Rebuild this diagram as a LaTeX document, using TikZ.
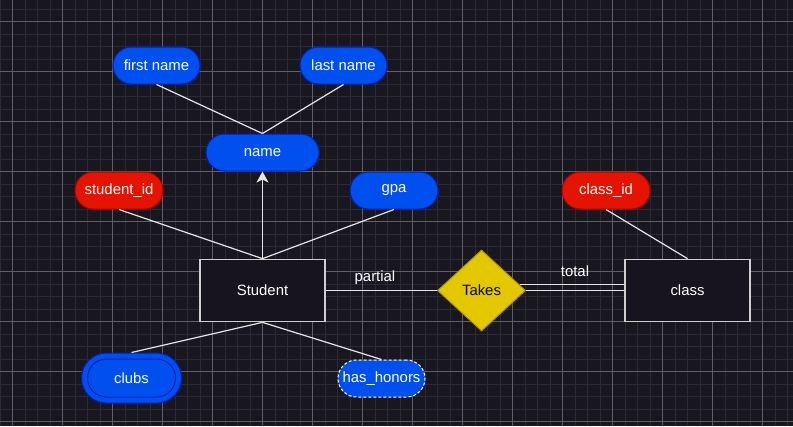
\documentclass[tikz,border=0pt]{standalone}
\usepackage{fontspec}
\setmainfont{Liberation Sans}
\usetikzlibrary{shapes.geometric,arrows.meta}
\definecolor{bgc}{RGB}{24,22,31}
\definecolor{minorc}{RGB}{44,42,52}
\definecolor{majorc}{RGB}{96,94,102}
\definecolor{bluef}{HTML}{0050EF}
\definecolor{blues}{HTML}{001DBC}
\definecolor{redf}{HTML}{E51400}
\definecolor{reds}{HTML}{B20000}
\definecolor{yelf}{HTML}{E3C800}
\definecolor{yels}{HTML}{B09500}
\definecolor{entf}{HTML}{18141D}
\definecolor{linec}{RGB}{230,230,230}
\tikzset{
  txt/.style={font=\fontsize{14.9}{17}\selectfont, text=white, inner sep=0pt},
  attr/.style={txt, rectangle, rounded corners=18.5pt, minimum width=87pt, minimum height=37pt, fill=bluef, draw=blues, line width=1pt},
  keyattr/.style={attr, fill=redf, draw=reds},
  entity/.style={txt, rectangle, minimum width=125pt, minimum height=62.5pt, fill=entf, draw=linec!90!black, line width=1.2pt},
  rel/.style={txt, text=black, diamond, shape aspect=1.0864, minimum width=88pt, minimum height=81pt, fill=yelf, draw=yels, line width=1pt},
  conn/.style={draw=linec, line width=1.2pt},
  lbl/.style={txt}
}
\begin{document}
\begin{tikzpicture}[x=1pt,y=-1pt]
\useasboundingbox (0,0) rectangle (793,426);
\fill[bgc] (0,0) rectangle (793,426);
\foreach \k in {0,...,63} {\draw[minorc, line width=1pt] ({0.17+12.5*\k},0) -- ({0.17+12.5*\k},426);}
\foreach \k in {0,...,33} {\draw[minorc, line width=1pt] (0,{9.17+12.5*\k}) -- (793,{9.17+12.5*\k});}
\foreach \k in {0,...,15} {\draw[majorc, line width=1pt] ({12.67+50*\k},0) -- ({12.67+50*\k},426);}
\foreach \k in {0,...,8} {\draw[majorc, line width=1pt] (0,{21.67+50*\k}) -- (793,{21.67+50*\k});}

% nodes
\node[attr] (fn) at (156.5,65.5) {first name};
\node[attr] (ln) at (343.5,65.5) {last name};
\node[attr, minimum width=113pt] (nm) at (262.5,152.5) {name};
\node[keyattr, minimum width=88pt] (sid) at (119,190.5) {student\_id};
\node[attr, minimum width=88pt] (gpa) at (394,190.5) {gpa};
\node[keyattr, minimum width=88pt] (cid) at (606,190.5) {class\_id};
\node[entity] (st) at (262.5,290.5) {Student};
\node[rel] (tk) at (481.5,290.5) {Takes};
\node[entity] (cl) at (687.5,290.5) {class};
\node[attr, minimum width=100pt, minimum height=50pt, rounded corners=25pt] (cb) at (131.5,378) {};
\node[attr, minimum width=88pt, minimum height=38pt, rounded corners=19pt] (cbi) at (131.5,378) {clubs};
\node[attr, minimum width=87pt, draw=white, dashed, dash pattern=on 3pt off 2pt] (hh) at (381.5,378.5) {has\_honors};

% connectors
\draw[conn] (fn.south) -- (nm.north);
\draw[conn] (ln.south) -- (nm.north);
\draw[conn, -{Stealth[length=11pt,width=12pt,inset=3pt,fill=linec]}] (st.north) -- (nm.south);
\draw[conn] (sid.south) -- (st.north);
\draw[conn] (gpa.south) -- (st.north);
\draw[conn] (cid.south) -- (cl.north);
\draw[conn] (st.south) -- (cb.north);
\draw[conn] (st.south) -- (hh.north);
\draw[conn] (st.east) -- (tk.west);
\draw[conn] (tk.east) -- (cl.west);
\draw[conn] ([xshift=-6.5pt,yshift=6pt]tk.east) -- ([yshift=6pt]cl.west);
\node[lbl] (lp) at (375,277.5) {partial};
\node[lbl] (lt) at (575,271) {total};
\end{tikzpicture}
\end{document}
